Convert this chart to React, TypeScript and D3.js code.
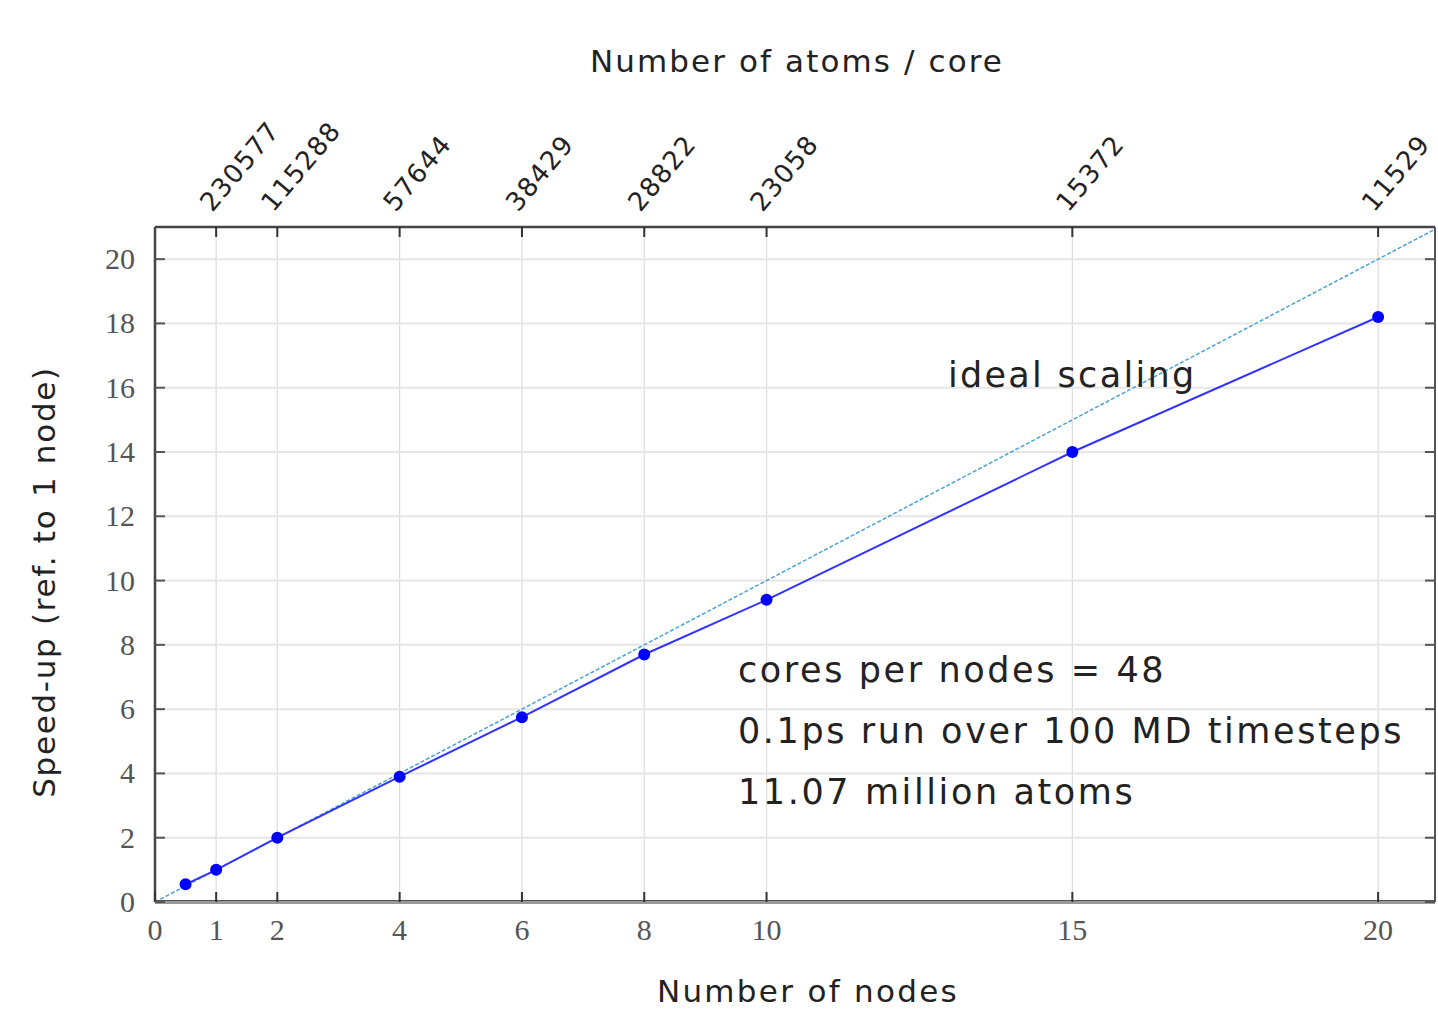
import React from "react";
import * as d3 from "d3";

const nodes = [0.5, 1, 2, 4, 6, 8, 10, 15, 20];
const speedup = [0.55, 1.0, 2.0, 3.9, 5.75, 7.7, 9.4, 14.0, 18.2];
const bottomTicks = [0, 1, 2, 4, 6, 8, 10, 15, 20];
const topTicks = [1, 2, 4, 6, 8, 10, 15, 20];
const topLabels = ["230577", "115288", "57644", "38429", "28822", "23058", "15372", "11529"];
const yTicks = [0, 2, 4, 6, 8, 10, 12, 14, 16, 18, 20];
const notes = ["cores per nodes = 48", "0.1ps run over 100 MD timesteps", "11.07 million atoms"];

const W = 1438, H = 1020;
const L = 155, R = 1435, T = 227, B = 902;

export default function App() {
  const x = d3.scaleLinear().domain([0, 20.93]).range([L, R]);
  const y = d3.scaleLinear().domain([0, 21]).range([B, T]);
  const line = d3.line<number>().x((d, i) => x(nodes[i])).y((d) => y(d));
  const serif = "'Liberation Serif', 'DejaVu Serif', serif";
  const sans = "'DejaVu Sans', sans-serif";
  return (
    <svg width={W} height={H} style={{ position: "absolute", left: 0, top: 0, background: "#fff" }}>
      <rect width={W} height={H} fill="#fff" />
      {/* grid */}
      {topTicks.map((t) => (
        <line key={"gx" + t} x1={x(t)} x2={x(t)} y1={T} y2={B} stroke="#dcdcdc" strokeWidth={1.2} />
      ))}
      {yTicks.filter((t) => t > 0).map((t) => (
        <line key={"gy" + t} x1={L} x2={R} y1={y(t)} y2={y(t)} stroke="#e6e6e6" strokeWidth={2} />
      ))}
      {/* ideal */}
      <line x1={x(0)} y1={y(0)} x2={x(20.93)} y2={y(20.93)} stroke="#4aa3d8" strokeWidth={1.5} strokeDasharray="4,2" />
      {/* data */}
      <path d={line(speedup) || ""} fill="none" stroke="#3333ff" strokeWidth={2} />
      {speedup.map((v, i) => (
        <circle key={i} cx={x(nodes[i])} cy={y(v)} r={6} fill="#0000ff" />
      ))}
      {/* frame */}
      <line x1={L} x2={R} y1={T} y2={T} stroke="#444" strokeWidth={2.5} />
      <line x1={L} x2={L} y1={T} y2={B} stroke="#444" strokeWidth={2.5} />
      <line x1={R} x2={R} y1={T} y2={B} stroke="#555" strokeWidth={2} />
      <line x1={L} x2={R} y1={B} y2={B} stroke="#999" strokeWidth={4} />
      <line x1={L} x2={R} y1={B - 1.5} y2={B - 1.5} stroke="#555" strokeWidth={1} />
      {/* ticks */}
      {bottomTicks.map((t) => (
        <g key={"bt" + t}>
          <line x1={x(t)} x2={x(t)} y1={B} y2={B - 10} stroke="#333" strokeWidth={2} />
          <text x={x(t)} y={B + 38} textAnchor="middle" fontFamily={serif} fontSize={30} fill="#555">{t}</text>
        </g>
      ))}
      {topTicks.map((t, i) => (
        <g key={"tt" + t}>
          <line x1={x(t)} x2={x(t)} y1={T} y2={T + 10} stroke="#333" strokeWidth={2} />
          <text transform={`translate(${x(t) - 4},${T - 14}) rotate(-50)`} fontFamily={sans} fontSize={26} letterSpacing={1.3} fill="#222">
            {topLabels[i]}
          </text>
        </g>
      ))}
      {yTicks.map((t) => (
        <g key={"yt" + t}>
          <line x1={L} x2={L + 10} y1={y(t)} y2={y(t)} stroke="#555" strokeWidth={2} />
          <line x1={R} x2={R - 10} y1={y(t)} y2={y(t)} stroke="#555" strokeWidth={2} />
          <text x={135} y={y(t) + 10} textAnchor="end" fontFamily={serif} fontSize={30} fill="#555">{t}</text>
        </g>
      ))}
      {/* titles */}
      <text x={797} y={72} textAnchor="middle" fontFamily={sans} fontSize={31} letterSpacing={2.1} fill="#222">Number of atoms / core</text>
      <text x={808} y={1002} textAnchor="middle" fontFamily={sans} fontSize={31} letterSpacing={2.3} fill="#222">Number of nodes</text>
      <text transform={`translate(55,582) rotate(-90)`} textAnchor="middle" fontFamily={sans} fontSize={31} letterSpacing={1.7} fill="#222">
        Speed-up (ref. to 1 node)
      </text>
      <text x={948} y={387} fontFamily={sans} fontSize={35} letterSpacing={2.3} fill="#222">ideal scaling</text>
      {notes.map((n, i) => (
        <text key={n} x={738} y={682 + i * 61} fontFamily={sans} fontSize={35} letterSpacing={2.6} fill="#222">{n}</text>
      ))}
    </svg>
  );
}
